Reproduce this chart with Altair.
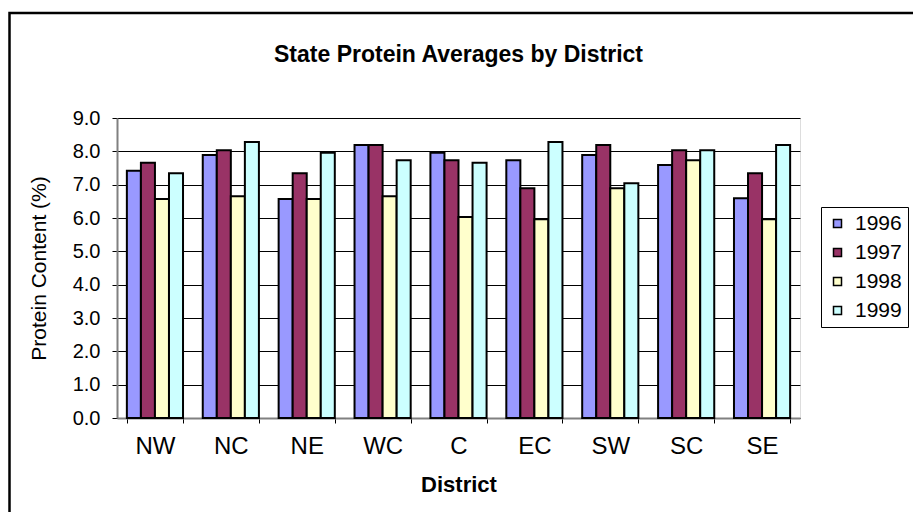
import altair as alt
import pandas as pd

districts = ["NW", "NC", "NE", "WC", "C", "EC", "SW", "SC", "SE"]
years = ["1996", "1997", "1998", "1999"]
v1996 = [7.42, 7.89, 6.57, 8.19, 7.96, 7.73, 7.89, 7.59, 6.59]
v1997 = [7.66, 8.03, 7.34, 8.19, 7.73, 6.89, 8.19, 8.03, 7.34]
v1998 = [6.57, 6.65, 6.57, 6.65, 6.03, 5.96, 6.89, 7.73, 5.96]
v1999 = [7.34, 8.28, 7.96, 7.73, 7.66, 8.28, 7.04, 8.03, 8.19]
colors = ["#9999FF", "#993366", "#FFFFCC", "#CCFFFF"]
y_ticks = [0, 1, 2, 3, 4, 5, 6, 7, 8, 9]

rows = []
for yr, vals in zip(years, [v1996, v1997, v1998, v1999]):
    for d, v in zip(districts, vals):
        rows.append({"District": d, "Year": yr, "Protein": v})
df = pd.DataFrame(rows)

FONT = "Liberation Sans"

bars = alt.Chart(df).mark_bar(stroke="black", strokeWidth=2).encode(
    x=alt.X("District:N", sort=districts,
            scale=alt.Scale(paddingInner=0.26, paddingOuter=0.13),
            axis=alt.Axis(title="District", labelAngle=0, tickBand="extent",
                          labelFontSize=24, labelPadding=23, labelBaseline="middle",
                          titleFontSize=22, titleFontWeight="bold",
                          titleY=66, titleBaseline="middle",
                          domainColor="#808080", domainWidth=2,
                          tickColor="black", tickSize=5)),
    xOffset=alt.XOffset("Year:N", sort=years, scale=alt.Scale(paddingInner=0)),
    y=alt.Y("Protein:Q", scale=alt.Scale(domain=[0, 9], nice=False),
            axis=alt.Axis(title="Protein Content (%)", values=y_ticks, format=".1f",
                          grid=True, gridColor="black", gridWidth=1, gridOpacity=1,
                          labelFontSize=20, labelPadding=12,
                          titleFontSize=21, titleFontWeight="normal",
                          titleX=-78, titleY=150, titleAngle=270,
                          titleAlign="center", titleBaseline="middle",
                          domainColor="#808080", domainWidth=2,
                          tickColor="black", tickSize=5)),
    color=alt.Color("Year:N", sort=years,
                    scale=alt.Scale(domain=years, range=colors),
                    legend=alt.Legend(title=None, orient="none", legendX=704, legendY=89,
                                      strokeColor="black", fillColor="white", padding=6,
                                      labelFont=FONT, labelFontSize=21, labelColor="black",
                                      symbolType="square", symbolSize=64,
                                      symbolStrokeColor="black", symbolStrokeWidth=1.5,
                                      rowPadding=7, labelOffset=7)),
)

border = alt.Chart(alt.Data(values=[{"a": 1}])).mark_rect(
    fillOpacity=0, stroke="black", strokeWidth=2.5
).encode(
    x=alt.value(-107.5), x2=alt.value(900),
    y=alt.value(-105), y2=alt.value(500),
)

chart = alt.layer(border, bars).properties(
    width=683, height=300,
    padding={"left": 109, "top": 110, "right": 113, "bottom": 94},
    autosize=alt.AutoSizeParams(type="none"),
    title=alt.TitleParams("State Protein Averages by District", font=FONT,
                          fontSize=23, fontWeight="bold", anchor="middle",
                          frame="group", offset=0, dy=55, color="black"),
).configure_view(
    stroke="#808080", strokeWidth=2, fill="white"
).configure_axis(
    labelFont=FONT, titleFont=FONT, labelColor="black", titleColor="black",
).configure(background="white")

chart.save("out.html", embed_options={"renderer": "svg", "actions": False})
